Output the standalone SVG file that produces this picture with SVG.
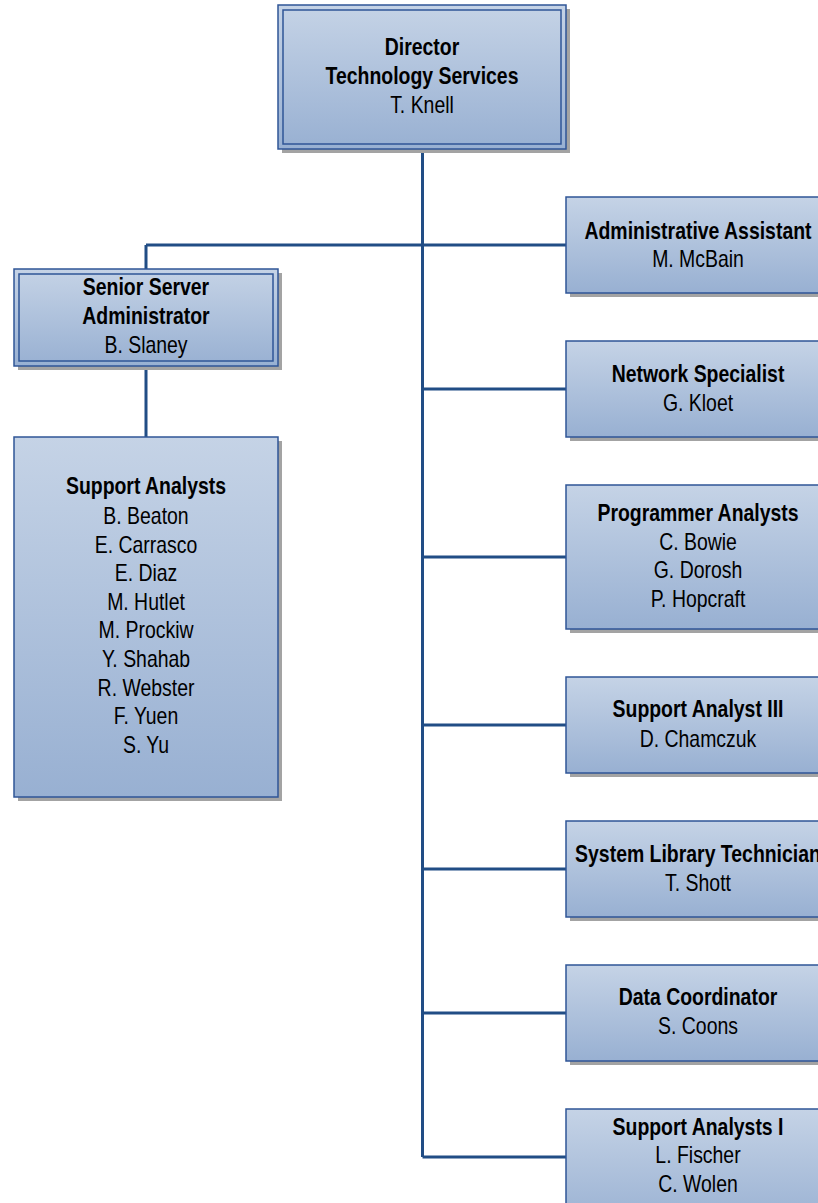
<svg xmlns="http://www.w3.org/2000/svg" width="818" height="1203" viewBox="0 0 818 1203">
<style>
.box{fill:url(#g);stroke:#2f5597;stroke-width:1.5}
.inner{fill:none;stroke:#2f5597;stroke-width:1.5}
.sh{fill:#a3a3a3}
.conn{fill:none;stroke:#214d85;stroke-width:3}
text{font-family:"Liberation Sans Narrow","Arial Narrow","Liberation Sans",sans-serif;font-size:23px;fill:#000;text-anchor:middle}
.b{font-weight:bold}
</style>
<defs>
<linearGradient id="g" x1="0" y1="0" x2="0" y2="1">
<stop offset="0" stop-color="#c5d3e6"/>
<stop offset="1" stop-color="#98b0d2"/>
</linearGradient>
</defs>
<rect width="818" height="1203" fill="#fff"/>
<g id="connectors">
<path class="conn" d="M422.5,149 V1157 M146,245 H566 M146,245 V269 M146,366 V437 M422.5,389 H566 M422.5,557 H566 M422.5,725 H566 M422.5,869 H566 M422.5,1013 H566 M422.5,1157 H566"/>
</g>
<g id="director">
<rect class="sh" x="282" y="9" width="288" height="144"/>
<rect class="box" x="278" y="5" width="288" height="144"/>
<rect class="inner" x="283" y="10" width="278" height="134"/>
<g transform="translate(422,0) scale(0.845,1)">
<text class="b" x="0" y="55">Director</text>
<text class="b" x="0" y="84">Technology Services</text>
<text x="0" y="113">T. Knell</text>
</g>
</g>
<g id="senior">
<rect class="sh" x="18" y="273" width="264" height="97"/>
<rect class="box" x="14" y="269" width="264" height="97"/>
<rect class="inner" x="19" y="274" width="254" height="87"/>
<g transform="translate(146,0) scale(0.845,1)">
<text class="b" x="0" y="295">Senior Server</text>
<text class="b" x="0" y="324">Administrator</text>
<text x="0" y="353">B. Slaney</text>
</g>
</g>
<g id="support-analysts">
<rect class="sh" x="18" y="441" width="264" height="360"/>
<rect class="box" x="14" y="437" width="264" height="360"/>
<g transform="translate(146,0) scale(0.845,1)">
<text class="b" x="0" y="494">Support Analysts</text>
<text x="0" y="524">B. Beaton</text>
<text x="0" y="552.6">E. Carrasco</text>
<text x="0" y="581.2">E. Diaz</text>
<text x="0" y="609.8">M. Hutlet</text>
<text x="0" y="638.4">M. Prockiw</text>
<text x="0" y="667">Y. Shahab</text>
<text x="0" y="695.6">R. Webster</text>
<text x="0" y="724.2">F. Yuen</text>
<text x="0" y="752.8">S. Yu</text>
</g>
</g>
<g id="admin-assistant">
<rect class="sh" x="570" y="201" width="264" height="96"/>
<rect class="box" x="566" y="197" width="264" height="96"/>
<g transform="translate(698,0) scale(0.845,1)">
<text class="b" x="0" y="239">Administrative Assistant</text>
<text x="0" y="267">M. McBain</text>
</g>
</g>
<g id="network-specialist">
<rect class="sh" x="570" y="345" width="264" height="96"/>
<rect class="box" x="566" y="341" width="264" height="96"/>
<g transform="translate(698,0) scale(0.845,1)">
<text class="b" x="0" y="382">Network Specialist</text>
<text x="0" y="411">G. Kloet</text>
</g>
</g>
<g id="programmer-analysts">
<rect class="sh" x="570" y="489" width="264" height="144"/>
<rect class="box" x="566" y="485" width="264" height="144"/>
<g transform="translate(698,0) scale(0.845,1)">
<text class="b" x="0" y="521">Programmer Analysts</text>
<text x="0" y="550">C. Bowie</text>
<text x="0" y="578.5">G. Dorosh</text>
<text x="0" y="607">P. Hopcraft</text>
</g>
</g>
<g id="support-analyst-iii">
<rect class="sh" x="570" y="681" width="264" height="96"/>
<rect class="box" x="566" y="677" width="264" height="96"/>
<g transform="translate(698,0) scale(0.845,1)">
<text class="b" x="0" y="717">Support Analyst III</text>
<text x="0" y="747">D. Chamczuk</text>
</g>
</g>
<g id="system-library-technician">
<rect class="sh" x="570" y="825" width="264" height="96"/>
<rect class="box" x="566" y="821" width="264" height="96"/>
<g transform="translate(698,0) scale(0.845,1)">
<text class="b" x="0" y="862">System Library Technician</text>
<text x="0" y="891">T. Shott</text>
</g>
</g>
<g id="data-coordinator">
<rect class="sh" x="570" y="969" width="264" height="96"/>
<rect class="box" x="566" y="965" width="264" height="96"/>
<g transform="translate(698,0) scale(0.845,1)">
<text class="b" x="0" y="1005">Data Coordinator</text>
<text x="0" y="1034">S. Coons</text>
</g>
</g>
<g id="support-analysts-i">
<rect class="sh" x="570" y="1113" width="264" height="120"/>
<rect class="box" x="566" y="1109" width="264" height="120"/>
<g transform="translate(698,0) scale(0.845,1)">
<text class="b" x="0" y="1135">Support Analysts I</text>
<text x="0" y="1163">L. Fischer</text>
<text x="0" y="1192">C. Wolen</text>
</g>
</g>
</svg>
